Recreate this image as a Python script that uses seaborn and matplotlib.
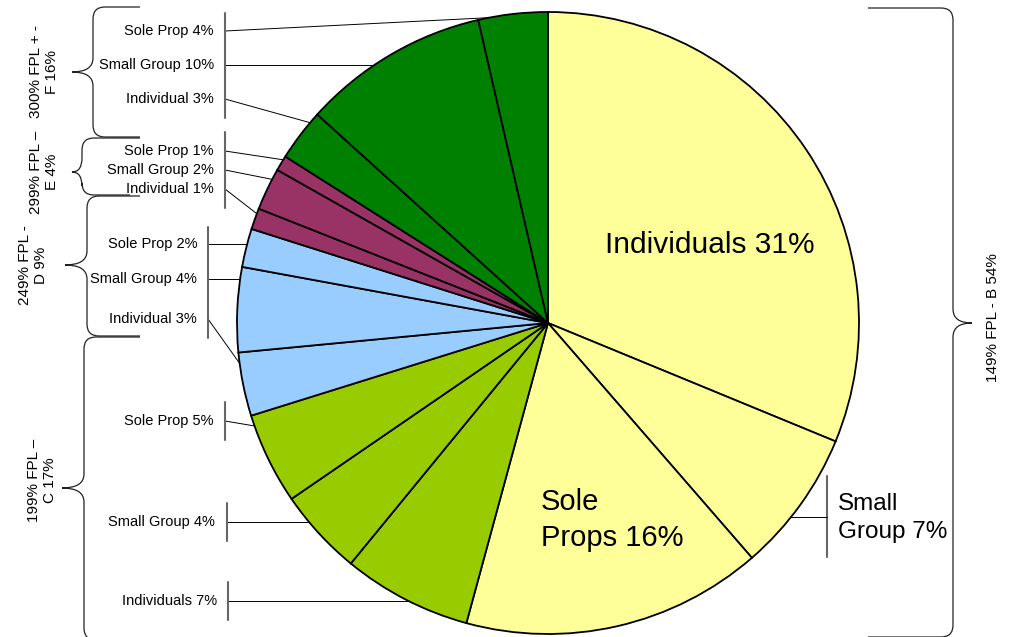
import numpy as np
import matplotlib
matplotlib.use("Agg")
import matplotlib.pyplot as plt
from matplotlib.path import Path
from matplotlib.patches import PathPatch
import seaborn as sns

# slices, clockwise from 12 o'clock
segments = ["Individuals", "Small Group", "Sole Props",
            "Individuals", "Small Group", "Sole Prop",
            "Individual", "Small Group", "Sole Prop",
            "Individual", "Small Group", "Sole Prop",
            "Individual", "Small Group", "Sole Prop"]
shares = [31.2, 7.4, 15.6, 6.7, 4.5, 4.75, 3.3, 4.4, 2.0, 1.1, 2.2, 0.8, 2.7, 9.7, 3.6]
shown_pct = [31, 7, 16, 7, 4, 5, 3, 4, 2, 1, 2, 1, 3, 10, 4]
band_of = ["B"] * 3 + ["C"] * 3 + ["D"] * 3 + ["E"] * 3 + ["F"] * 3

bands = ["B", "C", "D", "E", "F"]
band_names = ["149% FPL - B", "199% FPL –\nC", "249% FPL -\nD", "299% FPL –\nE", "300% FPL + -\nF"]
band_pct = [54, 17, 9, 4, 16]
band_colors = {"B": "#FFFF99", "C": "#99CC00", "D": "#99CCFF", "E": "#993366", "F": "#008000"}

sns.set_theme(style="white")
plt.rcParams["font.family"] = ["Liberation Sans", "DejaVu Sans"]
plt.rcParams["text.color"] = "black"

W, H = 1023, 637
CX, CY, R = 548, 323, 311


def fy(y):
    # image row -> data y
    return H - y


fig = plt.figure(figsize=(W / 100, H / 100), dpi=100)
ax = fig.add_axes([0, 0, 1, 1])
wedges, _ = ax.pie(shares, colors=[band_colors[b] for b in band_of],
                   startangle=90, counterclock=False,
                   center=(CX, fy(CY)), radius=R,
                   wedgeprops=dict(edgecolor="black", linewidth=1.3))
ax.set_xlim(0, W)
ax.set_ylim(0, H)
ax.set_aspect("equal")
ax.axis("off")


def rim_point(w, y_img, side):
    t1, t2 = w.theta1, w.theta2
    m = min(0.25 * (t2 - t1), 2.0)
    s = np.clip((fy(y_img) - fy(CY)) / R, -1, 1)
    th = np.degrees(np.arcsin(s))
    if side == "left":
        th = 180 - th
    mid = (t1 + t2) / 2
    th = th + 360 * np.round((mid - th) / 360)
    th = np.clip(th, t1 + m, t2 - m)
    return CX + R * np.cos(np.radians(th)), fy(CY) + R * np.sin(np.radians(th))


# small labels on the left: wedge index, label row, text right edge, bar x
left_layout = [(14, 31, 214, 225), (13, 65, 214, 225), (12, 99, 214, 225),
               (11, 151, 214, 225), (10, 170, 214, 225), (9, 189, 214, 225),
               (8, 244, 197, 208), (7, 279, 197, 208), (6, 319, 197, 208),
               (5, 421, 214, 225), (4, 522, 215, 227), (3, 601, 217, 228)]
bar_color = "#666666"
for i, yl, tx, bx in left_layout:
    ax.text(tx, fy(yl), f"{segments[i]} {shown_pct[i]}%", ha="right", va="center",
            fontsize=10.5)
    px, py = rim_point(wedges[i], yl, "left")
    ax.plot([bx, px], [fy(yl), py], color="black", lw=0.7)
    if i <= 5:
        ax.plot([bx, bx], [fy(yl - 19), fy(yl + 19)], color=bar_color, lw=1.5)

# grouped bars
for bx, y0, y1 in [(225, 13, 118), (225, 132, 208), (208, 227, 338)]:
    ax.plot([bx, bx], [fy(y0), fy(y1)], color=bar_color, lw=1.5)

# labels inside / right of the big slices
ax.text(710, fy(245), f"{segments[0]} {shown_pct[0]}%", ha="center", va="center", fontsize=21.5)
ax.text(541, fy(520), f"{segments[2].replace(' ', chr(10))} {shown_pct[2]}%", ha="left",
        va="center", fontsize=21, linespacing=1.35)
ax.text(838, fy(518), f"{segments[1].replace(' ', chr(10))} {shown_pct[1]}%", ha="left",
        va="center", fontsize=17.5, linespacing=1.3)
ax.plot([827, 827], [fy(476), fy(557)], color=bar_color, lw=1.5)
px, py = rim_point(wedges[1], 517, "right")
ax.plot([px, 827], [py, fy(517)], color="black", lw=0.7)


def brace(x_end_top, x_end_bot, y_top, y_bot, x_spine, x_tip, y_tip, rc=12, tip_dy=14):
    s = 1 if x_end_top > x_spine else -1
    pts = [(x_end_top, y_top), (x_spine + s * rc, y_top), (x_spine, y_top), (x_spine, y_top + rc),
           (x_spine, y_tip - tip_dy), (x_spine, y_tip), (x_tip, y_tip),
           (x_spine, y_tip), (x_spine, y_tip + tip_dy),
           (x_spine, y_bot - rc), (x_spine, y_bot), (x_spine + s * rc, y_bot), (x_end_bot, y_bot)]
    codes = [Path.MOVETO, Path.LINETO, Path.CURVE3, Path.CURVE3, Path.LINETO, Path.CURVE3, Path.CURVE3,
             Path.CURVE3, Path.CURVE3, Path.LINETO, Path.CURVE3, Path.CURVE3, Path.LINETO]
    verts = [(x, fy(y)) for x, y in pts]
    ax.add_patch(PathPatch(Path(verts, codes), fill=False, edgecolor="#222222", lw=0.9))


# braces and band labels: B right side, then C..F on the left
brace_layout = {"B": (868, 868, 8, 637, 953, 972, 323),
                "C": (140, 140, 337, 640, 84, 62, 488),
                "D": (140, 140, 196, 336, 87, 65, 265),
                "E": (140, 130, 138, 195, 82, 72, 172),
                "F": (140, 140, 7, 137, 93, 72, 72)}
label_pos = {"B": (993, 318), "C": (42, 480), "D": (33, 265), "E": (44, 172), "F": (44, 72)}
for b, name, pct in zip(bands, band_names, band_pct):
    brace(*brace_layout[b])
    x, y = label_pos[b]
    ax.text(x, fy(y), f"{name} {pct}%", rotation=90, ha="center", va="center",
            multialignment="center", fontsize=11, linespacing=1.15)

fig.savefig("out.png", dpi=100)
